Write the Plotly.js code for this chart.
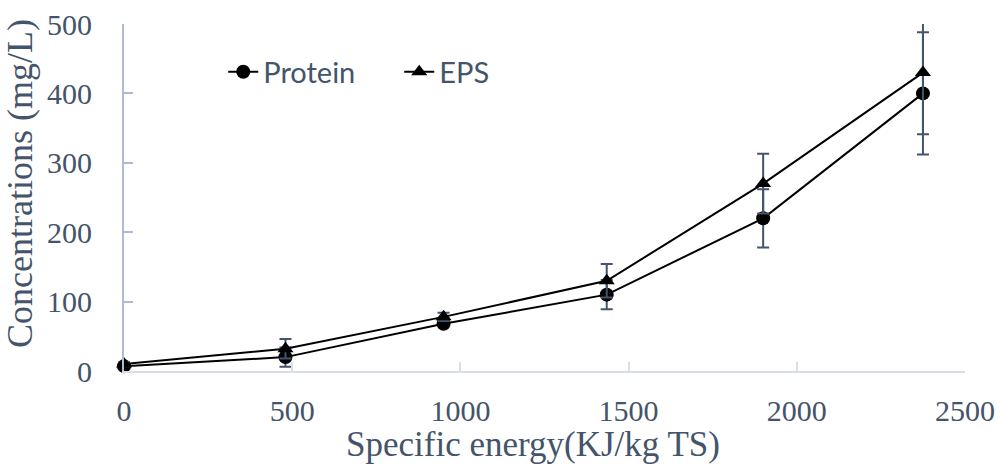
<!DOCTYPE html>
<html>
<head>
<meta charset="utf-8">
<script src="https://cdn.plot.ly/plotly-3.0.1.min.js"></script>
<style>
  html, body { margin: 0; padding: 0; background: #ffffff; }
  #chart { width: 1002px; height: 468px; }
</style>
</head>
<body>
<div id="chart"></div>
<script>
// Specific energy input (KJ/kg TS)
const energy = [0, 480, 950, 1435, 1900, 2375];

// Released concentrations (mg/L) with their standard deviations
const protein = [7, 20, 68, 110, 220, 400];
const proteinErr = [3, 14, 4, 21, 42, 88];
const eps = [10, 32, 78, 130, 270, 430];
const epsErr = [3, 14, 6, 24, 43, 89];

const seriesNames = ['Protein', 'EPS'];
const xTicks = [0, 500, 1000, 1500, 2000, 2500];
const yTicks = [0, 100, 200, 300, 400, 500];
const xTitle = 'Specific energy(KJ/kg TS)';
const yTitle = 'Concentrations (mg/L)';

const textColor = '#44546A';
const errColor = '#44546A';
const serif = '"Liberation Serif", "Times New Roman", serif';

function series(name, y, err, symbol) {
  return {
    type: 'scatter',
    mode: 'lines+markers',
    name: name,
    x: energy,
    y: y,
    line: { color: '#000000', width: 2 },
    marker: { symbol: symbol, size: 14, color: '#000000' },
    error_y: {
      type: 'data', array: err, visible: true,
      color: errColor, thickness: 2, width: 6
    },
    cliponaxis: false
  };
}

const data = [
  series(seriesNames[0], protein, proteinErr, 'circle'),
  series(seriesNames[1], eps, epsErr, 'triangle-up')
];

const layout = {
  width: 1002,
  height: 468,
  margin: { l: 124, r: 37, t: 24, b: 97 },
  paper_bgcolor: '#ffffff',
  plot_bgcolor: '#ffffff',
  showlegend: true,
  legend: {
    orientation: 'h',
    x: 0.118, xanchor: 'left',
    y: 0.862, yanchor: 'middle',
    entrywidth: 131,
    font: { family: 'Lato, "Open Sans", sans-serif', size: 29, color: textColor },
    bgcolor: 'rgba(0,0,0,0)',
    itemclick: false
  },
  xaxis: {
    range: [0, 2500],
    tickvals: xTicks,
    ticktext: xTicks.map(String),
    showgrid: false,
    zeroline: false,
    showline: true,
    linecolor: '#D9DEE6',
    linewidth: 2,
    ticks: 'inside',
    ticklen: 9,
    tickwidth: 2,
    tickcolor: '#D9DEE6',
    ticklabelstandoff: 12,
    tickfont: { family: serif, size: 30, color: textColor },
    automargin: false
  },
  yaxis: {
    range: [0, 500],
    tickvals: yTicks,
    ticktext: yTicks.map(String),
    showgrid: false,
    zeroline: false,
    showline: true,
    linecolor: '#AEBBD0',
    linewidth: 2,
    ticks: 'inside',
    ticklen: 9,
    tickwidth: 2,
    tickcolor: '#AEBBD0',
    ticklabelstandoff: 24,
    tickfont: { family: serif, size: 30, color: textColor },
    automargin: false
  },
  annotations: [
    {
      text: xTitle, showarrow: false,
      xref: 'paper', yref: 'paper',
      x: 0.486, xanchor: 'center',
      y: -0.213, yanchor: 'middle',
      font: { family: serif, size: 35, color: textColor }
    },
    {
      text: yTitle, showarrow: false, textangle: -90,
      xref: 'paper', yref: 'paper',
      x: -0.1237, xanchor: 'center',
      y: 0.542, yanchor: 'middle',
      font: { family: serif, size: 36, color: textColor }
    }
  ]
};

Plotly.newPlot('chart', data, layout, { displayModeBar: false, staticPlot: true });
</script>
</body>
</html>
